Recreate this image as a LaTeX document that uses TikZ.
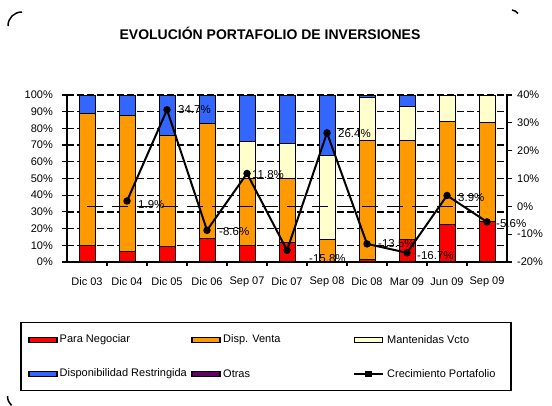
\documentclass[tikz,border=0pt]{standalone}
\usepackage{fontspec}
\setmainfont{Liberation Sans}
\definecolor{cRed}{HTML}{FF0000}
\definecolor{cOrange}{HTML}{FF9900}
\definecolor{cYellow}{HTML}{FFFFCC}
\definecolor{cBlue}{HTML}{3366FF}
\definecolor{cPurple}{HTML}{660066}
\newcommand\barseg[4]{\filldraw[barstyle, fill=#4] ({#1-8},{262-1.67*#2}) rectangle ({#1+8},{262-1.67*#3});}
\begin{document}
\begin{tikzpicture}[x=1pt,y=-1pt,
  barstyle/.style={draw=black, line width=0.5pt},
  gridln/.style={line width=1.3pt, dash pattern=on 6.5pt off 3.5pt},
  zeroln/.style={line width=1.2pt, dash pattern=on 16pt off 9pt},
  axisln/.style={line width=1.8pt},
  tickln/.style={line width=1.2pt},
  growth/.style={line width=2pt},
  mk/.style={circle, fill=black, inner sep=0pt, minimum size=7.5pt},
  axlbl/.style={font=\fontsize{11}{13}\selectfont, inner sep=0pt},
  ptlbl/.style={font=\fontsize{11.5}{13}\selectfont, inner sep=0pt, anchor=west},
  lgtext/.style={font=\fontsize{11}{13}\selectfont, inner sep=0pt, anchor=west},
  swatch/.style={draw=black, line width=1.3pt, minimum width=28pt, minimum height=5pt, inner sep=0pt},
  corner/.style={line width=1.5pt}
]
\useasboundingbox (0,0) rectangle (552,406);
\fill[white] (0,0) rectangle (552,406);

% frame corners
\draw[corner] (8,26) .. controls (8,18) and (14,12) .. (22,12);
\draw[corner] (512,10) .. controls (514.5,10.3) and (516.5,11.5) .. (518,13.5);
\draw[corner] (7.5,396) .. controls (7.5,400) and (9,403) .. (11.5,405.5);

% title
\node[font=\fontsize{14}{16}\selectfont\bfseries, inner sep=0pt] (title) at (270,33) {EVOLUCIÓN PORTAFOLIO DE INVERSIONES};

% gridlines
\foreach \v in {10,20,...,100}
  \draw[gridln] (67,{262-1.67*\v}) -- (507,{262-1.67*\v});

% bars
\barseg{87}{0}{10}{cRed}\barseg{87}{10}{89}{cOrange}\barseg{87}{89}{100}{cBlue}
\barseg{127}{0}{6.5}{cRed}\barseg{127}{6.5}{88}{cOrange}\barseg{127}{88}{100}{cBlue}
\barseg{167}{0}{9.5}{cRed}\barseg{167}{9.5}{76}{cOrange}\barseg{167}{76}{100}{cBlue}
\barseg{207}{0}{14}{cRed}\barseg{207}{14}{83}{cOrange}\barseg{207}{83}{100}{cBlue}
\barseg{247}{0}{10}{cRed}\barseg{247}{10}{50}{cOrange}\barseg{247}{50}{72.5}{cYellow}\barseg{247}{72.5}{100}{cBlue}
\barseg{287}{0}{12}{cRed}\barseg{287}{12}{50}{cOrange}\barseg{287}{50}{71}{cYellow}\barseg{287}{71}{100}{cBlue}
\barseg{327}{0}{13.5}{cOrange}\barseg{327}{13.5}{64}{cYellow}\barseg{327}{64}{100}{cBlue}
\barseg{367}{0}{1.5}{cRed}\barseg{367}{1.5}{73}{cOrange}\barseg{367}{73}{98.6}{cYellow}\barseg{367}{98.6}{100}{cBlue}
\barseg{407}{0}{13.5}{cRed}\barseg{407}{13.5}{73}{cOrange}\barseg{407}{73}{93.5}{cYellow}\barseg{407}{93.5}{100}{cBlue}
\barseg{447}{0}{22.5}{cRed}\barseg{447}{22.5}{84}{cOrange}\barseg{447}{84}{100}{cYellow}
\barseg{487}{0}{24.5}{cRed}\barseg{487}{24.5}{83.5}{cOrange}\barseg{487}{83.5}{100}{cYellow}

% zero line of right axis
\coordinate (z0) at (87,206.3);
\coordinate (z1) at (487,206.3);
\draw[zeroln] (z0) -- (z1);

% axes
\draw[axisln] (67,94) -- (67,263);
\draw[axisln] (507,94) -- (507,263);
\draw[axisln] (66,262) -- (508,262);
\foreach \v in {0,10,...,100}
  \draw[tickln] (62,{262-1.67*\v}) -- (67,{262-1.67*\v});
\foreach \k in {0,...,6}
  \draw[tickln] (507,{262-27.833*\k}) -- (512,{262-27.833*\k});
\foreach \k in {1,...,10}
  \draw[tickln] ({67+40*\k},262) -- ({67+40*\k},266);

% axis labels
\foreach \p [count=\i] in {0,10,...,100}
  \node[axlbl, anchor=east] (yl\i) at (53,{262-1.67*\p}) {\p\%};
\foreach \p [count=\k from 0] in {-20,-10,0,10,20,30,40}
  \node[axlbl, anchor=west] (yr\k) at (517,{262-27.833*\k}) {\p\%};
\foreach \c [count=\i from 0] in {Dic 03,Dic 04,Dic 05,Dic 06,Sep 07,Dic 07,Sep 08,Dic 08,Mar 09,Jun 09,Sep 09}
  \node[axlbl] (cat\i) at ({87+40*\i},282) {\c};

% growth series
\node[mk] (g1) at (127,201.0) {};
\node[mk] (g2) at (167,109.8) {};
\node[mk] (g3) at (207,230.3) {};
\node[mk] (g4) at (247,173.5) {};
\node[mk] (g5) at (287,250.3) {};
\node[mk] (g6) at (327,132.9) {};
\node[mk] (g7) at (367,243.9) {};
\node[mk] (g8) at (407,252.8) {};
\node[mk] (g9) at (447,195.5) {};
\node[mk] (g10) at (487,221.9) {};
\draw[growth] (g1.center) -- (g2.center) -- (g3.center) -- (g4.center) -- (g5.center) -- (g6.center) -- (g7.center) -- (g8.center) -- (g9.center) -- (g10.center);

\node[ptlbl] (l1) at (138,205) {1.9\%};
\node[ptlbl] (l2) at (178,109.5) {34.7\%};
\node[ptlbl] (l3) at (219,231.5) {-8.6\%};
\node[ptlbl] (l4) at (252,174.5) {11.8\%};
\node[ptlbl] (l5) at (309,258.5) {-15.8\%};
\node[ptlbl] (l6) at (338,134) {26.4\%};
\node[ptlbl] (l7) at (378,244) {-13.5\%};
\node[ptlbl] (l8) at (417,256) {-16.7\%};
\node[ptlbl] (l9) at (458,197.5) {3.9\%};
\node[ptlbl] (l10) at (496,224) {-5.6\%};

% legend
\draw[line width=1.5pt] (21,322.5) rectangle (511,390.5);
\node[swatch, fill=cRed] (s1) at (43,340) {};
\node[lgtext] (t1) at (59.5,340) {Para Negociar};
\node[swatch, fill=cOrange] (s2) at (206,340) {};
\node[lgtext] (t2) at (223,340) {Disp. Venta};
\node[swatch, fill=cYellow] (s3) at (368.5,340) {};
\node[lgtext] (t3) at (387,340) {Mantenidas Vcto};
\node[swatch, fill=cBlue] (s4) at (43,374) {};
\node[lgtext] (t4) at (59.5,374) {Disponibilidad Restringida};
\node[swatch, fill=cPurple] (s5) at (206,374) {};
\node[lgtext] (t5) at (223,374) {Otras};
\coordinate (c1) at (354,374);
\coordinate (c2) at (383,374);
\draw[growth] (c1) -- (c2);
\node[fill=black, inner sep=0pt, minimum size=6.5pt] (cm) at (368.5,374) {};
\node[lgtext] (t6) at (387,374) {Crecimiento Portafolio};
\end{tikzpicture}
\end{document}
